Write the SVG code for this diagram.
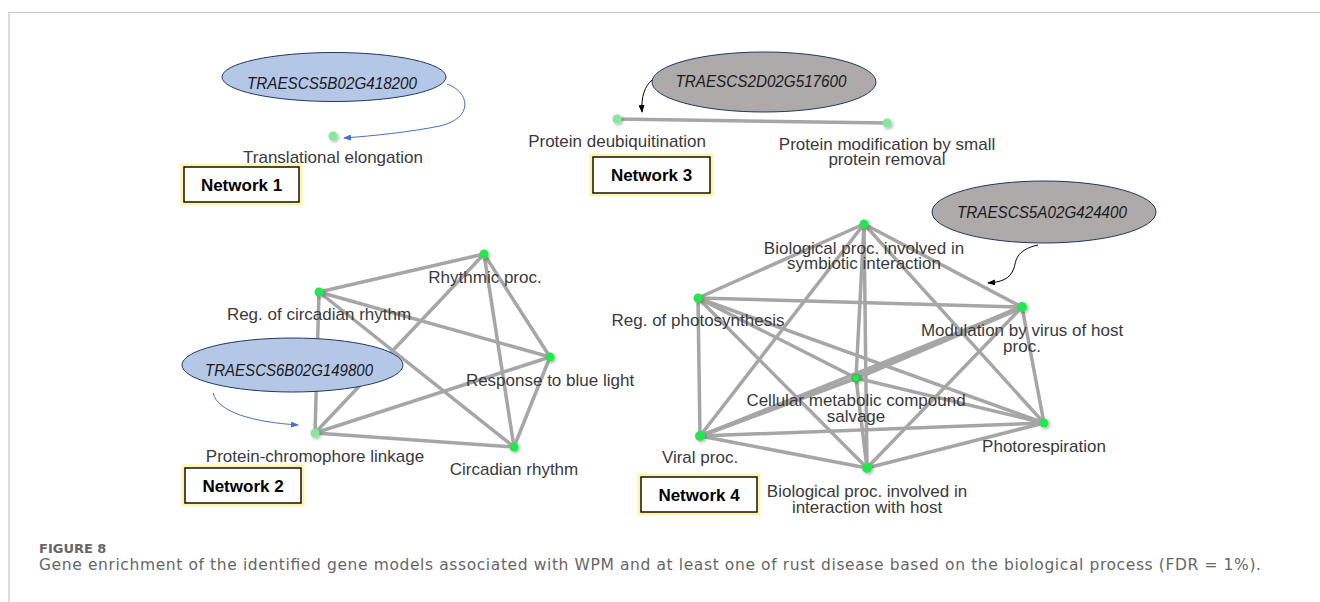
<svg xmlns="http://www.w3.org/2000/svg" width="1320" height="602" viewBox="0 0 1320 602">
<style>
.lbl{font-family:"Liberation Sans",Arial,sans-serif;font-size:17px;fill:#3a3a3a;text-anchor:middle}
.gene{font-family:"Liberation Sans",Arial,sans-serif;font-size:16px;font-style:italic;fill:#1a1a1a;text-anchor:middle}
.net{font-family:"Liberation Sans",Arial,sans-serif;font-size:17px;font-weight:bold;fill:#000;text-anchor:middle}
.edge{stroke:#a6a6a6;stroke-width:3.5;fill:none;stroke-linecap:round}
.node{fill:#22e84e;filter:url(#sh)}
.nodel{fill:#86e89c;filter:url(#sh)}
.glow{fill:none;stroke:#fff29a;stroke-width:7;opacity:0.85}
.box{fill:#fff;stroke:#000;stroke-width:1.4}
.ellb{fill:#b4c7e7;stroke:#1f3864;stroke-width:1}
.ellg{fill:#aeaaaa;stroke:#1f3864;stroke-width:1}
.arb{fill:none;stroke:#4472c4;stroke-width:1;marker-end:url(#mb)}
.ark{fill:none;stroke:#000;stroke-width:1;marker-end:url(#mk)}
.cap{font-family:"DejaVu Sans","Open Sans",sans-serif;fill:#666}
</style>
<defs>
<filter id="sh" x="-100%" y="-100%" width="300%" height="300%">
<feDropShadow dx="1.5" dy="1.5" stdDeviation="1.5" flood-color="#000" flood-opacity="0.3"/>
</filter>
<marker id="mb" markerWidth="8" markerHeight="6" refX="7" refY="3" orient="auto" markerUnits="userSpaceOnUse">
<path d="M0,0 L8,3 L0,6 Z" fill="#4472c4"/>
</marker>
<marker id="mk" markerWidth="8" markerHeight="6" refX="7" refY="3" orient="auto" markerUnits="userSpaceOnUse">
<path d="M0,0 L8,3 L0,6 Z" fill="#000"/>
</marker>
</defs>
<rect width="1320" height="602" fill="#fff"/>
<path d="M9,602 L9,12.5 L1320,12.5" fill="none" stroke="#c4c4c4" stroke-width="1.2"/>

<g id="connectors">
<!-- network 3 -->
<line class="edge" x1="617" y1="119" x2="887" y2="123" stroke="#999"/>
<!-- network 2: K5 -->
<line class="edge" x1="484" y1="254" x2="319" y2="292"/>
<line class="edge" x1="484" y1="254" x2="550" y2="357"/>
<line class="edge" x1="484" y1="254" x2="315" y2="433"/>
<line class="edge" x1="484" y1="254" x2="514" y2="447"/>
<line class="edge" x1="319" y1="292" x2="550" y2="357"/>
<line class="edge" x1="319" y1="292" x2="315" y2="433"/>
<line class="edge" x1="319" y1="292" x2="514" y2="447"/>
<line class="edge" x1="550" y1="357" x2="315" y2="433"/>
<line class="edge" x1="550" y1="357" x2="514" y2="447"/>
<line class="edge" x1="315" y1="433" x2="514" y2="447"/>
<!-- network 4: K7 -->
<line class="edge" x1="864" y1="224" x2="698" y2="298"/>
<line class="edge" x1="864" y1="224" x2="1022" y2="307"/>
<line class="edge" x1="864" y1="224" x2="856" y2="378"/>
<line class="edge" x1="864" y1="224" x2="700" y2="436"/>
<line class="edge" x1="864" y1="224" x2="867" y2="468"/>
<line class="edge" x1="864" y1="224" x2="1044" y2="423"/>
<line class="edge" x1="698" y1="298" x2="1022" y2="307"/>
<line class="edge" x1="698" y1="298" x2="856" y2="378"/>
<line class="edge" x1="698" y1="298" x2="700" y2="436"/>
<line class="edge" x1="698" y1="298" x2="867" y2="468"/>
<line class="edge" x1="698" y1="298" x2="1044" y2="423"/>
<line class="edge" x1="1022" y1="307" x2="856" y2="378" style="stroke-width:5"/>
<line class="edge" x1="1022" y1="307" x2="700" y2="436"/>
<line class="edge" x1="1022" y1="307" x2="867" y2="468"/>
<line class="edge" x1="1022" y1="307" x2="1044" y2="423"/>
<line class="edge" x1="856" y1="378" x2="700" y2="436" style="stroke-width:4.5"/>
<line class="edge" x1="856" y1="378" x2="867" y2="468"/>
<line class="edge" x1="856" y1="378" x2="1044" y2="423"/>
<line class="edge" x1="700" y1="436" x2="867" y2="468"/>
<line class="edge" x1="700" y1="436" x2="1044" y2="423"/>
<line class="edge" x1="867" y1="468" x2="1044" y2="423"/>
<!-- gene arrows -->
<path class="arb" d="M447,84 C470,92 474,118 440,126 C410,132 372,136 344,138"/>
<path class="ark" d="M652,80 C645,86 641,96 642,112"/>
<path class="arb" d="M213,393 C218,412 252,422 298,425"/>
<path class="ark" d="M1038,245 C1015,250 1016,262 1014,268 C1010,280 1000,282 988,283"/>
</g>

<!-- Network 1 -->
<g id="gene-5B">
<ellipse class="ellb" cx="334" cy="77" rx="112" ry="24.5"/>
<text class="gene" x="332" y="89" textLength="170" lengthAdjust="spacingAndGlyphs">TRAESCS5B02G418200</text>
</g>
<g id="n1-translational">
<circle class="nodel" cx="333" cy="136" r="4.5"/>
<text class="lbl" x="333" y="163">Translational elongation</text>
</g>
<g id="label-network1">
<rect class="glow" x="184" y="167" width="115" height="35"/>
<rect class="box" x="184" y="167" width="115" height="35"/>
<text class="net" x="241.5" y="191">Network 1</text>
</g>

<!-- Network 3 -->
<g id="gene-2D">
<ellipse class="ellg" cx="764" cy="82" rx="112" ry="30"/>
<text class="gene" x="761" y="87" textLength="171" lengthAdjust="spacingAndGlyphs">TRAESCS2D02G517600</text>
</g>
<g id="n3-deubiq">
<circle class="nodel" cx="617" cy="119" r="4.5"/>
<text class="lbl" x="617" y="147">Protein deubiquitination</text>
</g>
<g id="n3-modification">
<circle class="nodel" cx="887" cy="123" r="4.5"/>
<text class="lbl" x="887" y="150">Protein modification by small</text>
<text class="lbl" x="887" y="165">protein removal</text>
</g>
<g id="label-network3">
<rect class="glow" x="593" y="157" width="117" height="36"/>
<rect class="box" x="593" y="157" width="117" height="36"/>
<text class="net" x="651.5" y="181">Network 3</text>
</g>

<!-- Network 2 -->
<g id="n2-rhythmic">
<circle class="node" cx="484" cy="254" r="4.5"/>
<text class="lbl" x="485" y="283">Rhythmic proc.</text>
</g>
<g id="n2-regcirc">
<circle class="node" cx="319" cy="292" r="4.5"/>
<text class="lbl" x="319" y="320">Reg. of circadian rhythm</text>
</g>
<g id="n2-blue">
<circle class="node" cx="550" cy="357" r="4.5"/>
<text class="lbl" x="550" y="386">Response to blue light</text>
</g>
<g id="n2-chromophore">
<circle class="nodel" cx="315" cy="433" r="4.5"/>
<text class="lbl" x="315" y="462">Protein-chromophore linkage</text>
</g>
<g id="n2-circadian">
<circle class="node" cx="514" cy="447" r="4.5"/>
<text class="lbl" x="514" y="475">Circadian rhythm</text>
</g>
<g id="gene-6B">
<ellipse class="ellb" cx="292.5" cy="365" rx="110.5" ry="27"/>
<text class="gene" x="289" y="376" textLength="168" lengthAdjust="spacingAndGlyphs">TRAESCS6B02G149800</text>
</g>
<g id="label-network2">
<rect class="glow" x="185" y="468" width="116" height="35"/>
<rect class="box" x="185" y="468" width="116" height="35"/>
<text class="net" x="243" y="492">Network 2</text>
</g>

<!-- Network 4 -->
<g id="gene-5A">
<ellipse class="ellg" cx="1044" cy="212" rx="112" ry="31"/>
<text class="gene" x="1042" y="218" textLength="170" lengthAdjust="spacingAndGlyphs">TRAESCS5A02G424400</text>
</g>
<g id="n4-symbiotic">
<circle class="node" cx="864" cy="224" r="4.5"/>
<text class="lbl" x="864" y="254">Biological proc. involved in</text>
<text class="lbl" x="864" y="269">symbiotic interaction</text>
</g>
<g id="n4-photosynthesis">
<circle class="node" cx="698" cy="298" r="4.5"/>
<text class="lbl" x="698" y="326">Reg. of photosynthesis</text>
</g>
<g id="n4-modulation">
<circle class="node" cx="1022" cy="307" r="5"/>
<text class="lbl" x="1022" y="336">Modulation by virus of host</text>
<text class="lbl" x="1022" y="352">proc.</text>
</g>
<g id="n4-cellular">
<circle class="node" cx="856" cy="378" r="4" style="stroke:#2bb34a;stroke-width:1"/>
<text class="lbl" x="856" y="406">Cellular metabolic compound</text>
<text class="lbl" x="856" y="422">salvage</text>
</g>
<g id="n4-photorespiration">
<circle class="node" cx="1044" cy="423" r="4.5"/>
<text class="lbl" x="1044" y="452">Photorespiration</text>
</g>
<g id="n4-viral">
<circle class="node" cx="700" cy="436" r="5"/>
<text class="lbl" x="700" y="463">Viral proc.</text>
</g>
<g id="n4-host">
<circle class="node" cx="867" cy="468" r="5"/>
<text class="lbl" x="867" y="497">Biological proc. involved in</text>
<text class="lbl" x="867" y="513">interaction with host</text>
</g>
<g id="label-network4">
<rect class="glow" x="641" y="477" width="116" height="35"/>
<rect class="box" x="641" y="477" width="116" height="35"/>
<text class="net" x="699" y="501">Network 4</text>
</g>

<g id="caption">
<text class="cap" x="39" y="553" font-size="13" font-weight="bold">FIGURE 8</text>
<text class="cap" x="39" y="570" font-size="15.5" textLength="1222" lengthAdjust="spacing">Gene enrichment of the identified gene models associated with WPM and at least one of rust disease based on the biological process (FDR = 1%).</text>
</g>
</svg>
